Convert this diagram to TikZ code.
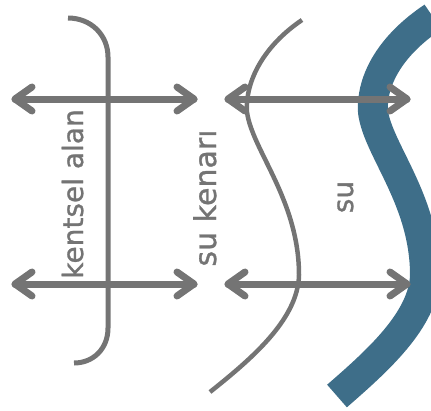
\documentclass[tikz,border=0pt]{standalone}
\usepackage{fontspec}
\newfontfamily\lblfont[FakeBold=1]{DejaVu Sans}
\definecolor{edgegray}{HTML}{747474}
\definecolor{waterblue}{HTML}{3E6E89}
\begin{document}
\begin{tikzpicture}[x=1pt,y=-1pt,
  arrowline/.style={draw=edgegray,line width=7pt,line cap=round,line join=round},
  bracketline/.style={draw=edgegray,line width=5pt,line cap=butt},
  waveline/.style={draw=edgegray,line width=4.5pt},
  waterline/.style={draw=waterblue,line width=30pt},
  zonelabel/.style={text=edgegray,font=\lblfont\fontsize{28}{30}\selectfont,rotate=90,anchor=base,inner sep=0pt}]
\useasboundingbox (0,0) rectangle (431,410);
\clip (0,0) rectangle (431,410);

% water body
\draw[waterline,shift={(126,0)}] (307,17) .. controls (265,45) and (245,80) .. (247,112)
  .. controls (252,150) and (299,200) .. (299,275)
  .. controls (298,320) and (250,362) .. (211,396);

% shoreline
\draw[waveline] (302,20) .. controls (265,45) and (245,80) .. (247,112)
  .. controls (252,150) and (299,200) .. (299,275)
  .. controls (298,320) and (250,360) .. (210,392);

% urban area bracket
\draw[bracketline] (68,18) .. controls (91,18) and (108,35) .. (108,57) -- (108,328)
  .. controls (108,349) and (93,363) .. (74,363);

% double arrows
\coordinate (aL1) at (15,99);  \coordinate (aR1) at (194,99);
\coordinate (aL2) at (15,284); \coordinate (aR2) at (194,284);
\coordinate (bL1) at (228,99);  \coordinate (bR1) at (407,99);
\coordinate (bL2) at (228,284); \coordinate (bR2) at (407,284);
\foreach \s/\e in {aL1/aR1,aL2/aR2,bL1/bR1,bL2/bR2}{
  \draw[arrowline] (\s) -- (\e);
  \draw[arrowline] ([shift={(17,-12)}]\s) -- (\s) -- ([shift={(17,12)}]\s);
  \draw[arrowline] ([shift={(-17,-12)}]\e) -- (\e) -- ([shift={(-17,12)}]\e);
}

% labels
\node[zonelabel] (urban) at (83,194) {kentsel alan};
\node[zonelabel,font=\lblfont\fontsize{30}{32}\selectfont] (shore) at (216,198) {su kenarı};
\node[zonelabel] (water) at (353,197) {su};
\end{tikzpicture}
\end{document}
